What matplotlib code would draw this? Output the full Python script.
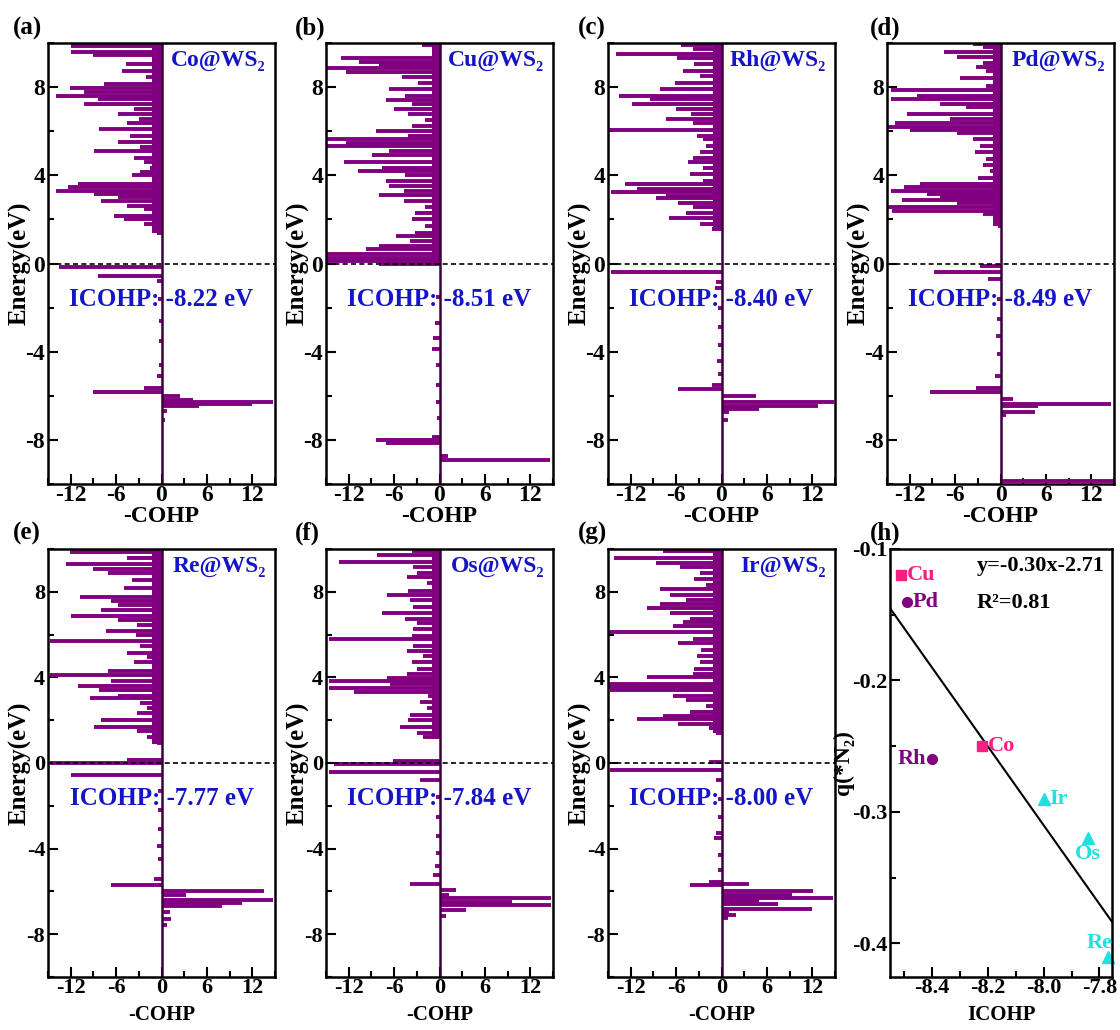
import numpy as np
import matplotlib
matplotlib.use("Agg")
import matplotlib.pyplot as plt
from matplotlib.ticker import MultipleLocator, FormatStrFormatter

plt.rcParams['font.family'] = ['Liberation Serif', 'DejaVu Serif']
plt.rcParams['font.weight'] = 'bold'
plt.rcParams['axes.unicode_minus'] = False

# -COHP spikes: energy (eV) and value
co_e = [9.85, 9.6, 9.45, 9.05, 8.75, 8.45, 8.15, 7.95, 7.77, 7.6, 7.47, 7.24, 7.0, 6.8, 6.55,
        6.35, 6.1, 5.8, 5.5, 5.27, 5.1, 4.8, 4.6, 4.35, 4.15, 4.0, 3.6, 3.45, 3.3, 3.15, 3.0,
        2.85, 2.6, 2.45, 2.15, 2.0, 1.8, 1.55, 1.4, -0.18, -0.55, -0.8, -1.6, -2.6, -3.5, -4.6,
        -5.1, -5.65, -5.85, -6.0, -6.17, -6.27, -6.39, -6.47, -6.7, -7.1]
co_v = [-12, -12, -9, -4.7, -5.2, -2.1, -7.6, -12.1, -10.2, -14, -8.4, -10.2, -3.6, -5.8, -3,
        -4.5, -8.2, -4.1, -5.8, -2.8, -8.9, -3.6, -2.3, -1.5, -2.8, -3.9, -11, -12.3, -13.9, -8.9, -5.8,
        -8.0, -4.5, -2.3, -6.3, -5.0, -2.3, -1.3, -0.6, -13.6, -8.4, -0.6, -0.4, -0.3, -0.3, -0.3,
        -0.6, -2.3, -9.1, 2.4, 4.2, 14.8, 12, 5, 0.7, 0.5]

cu_e = [9.9, 9.6, 9.3, 9.15, 9.0, 8.85, 8.7, 8.45, 8.2, 7.9, 7.6, 7.4, 7.25, 7.0, 6.8, 6.5,
        6.25, 6.0, 5.8, 5.65, 5.45, 5.35, 5.1, 4.9, 4.6, 4.35, 4.2, 4.0, 3.75, 3.5, 3.3, 3.1,
        2.85, 2.55, 2.3, 2.0, 1.7, 1.4, 1.25, 1.0, 0.8, 0.65, 0.42, 0.27, 0.12, -0.03, -1.5,
        -2.7, -3.4, -3.9, -4.6, -5.5, -6.3, -7.0, -7.87, -8.0, -8.13, -8.75, -8.9]
cu_v = [-2.3, -0.6, -13, -10.6, -8, -15, -12.3, -5, -2.8, -6.7, -4.5, -7.1, -3.6, -6, -4.1, -1.9,
        -3.6, -8.4, -4.1, -15, -12.3, -15, -6.7, -8.9, -12.6, -7.6, -10.8, -4.5, -7.1, -6.7, -4.7, -8,
        -4.7, -1.9, -3.2, -3.6, -1.9, -3.2, -5.8, -3.9, -8, -9.7, -15, -15, -15, -8, -0.5,
        -0.6, -0.9, -1.0, -0.5, -0.4, -0.4, -0.3, -1.0, -8.4, -7.1, 1.1, 14.6]

rh_e = [9.9, 9.75, 9.5, 9.3, 9.05, 8.75, 8.5, 8.2, 7.9, 7.6, 7.45, 7.25, 7.0, 6.8, 6.55, 6.35,
        6.05, 5.8, 5.65, 5.35, 5.05, 4.8, 4.6, 4.35, 4.05, 3.75, 3.6, 3.4, 3.25, 3.05, 2.95, 2.75,
        2.55, 2.3, 2.05, 1.8, 1.55, -0.38, -0.85, -1.1, -2.0, -2.9, -3.7, -4.4, -5.0, -5.5, -5.7,
        -6.0, -6.3, -6.45, -6.6, -6.75, -7.1]
rh_v = [-5.3, -3.8, -14, -5.9, -3.6, -5.1, -2.9, -6.2, -8.1, -13.6, -9.4, -11.8, -6, -4, -7.3, -3.8,
        -14.9, -3.3, -2.5, -2, -2.9, -3.8, -4.4, -2.5, -4.2, -2.5, -12.7, -11.2, -14.6, -7.3, -8.6, -5.7,
        -3.8, -4.7, -7, -2.9, -1.2, -14.6, -0.7, -0.8, -0.5, -0.5, -0.5, -0.6, -0.5, -1.2, -5.7,
        4.5, 14.9, 12.7, 4.9, 1.0, 0.8]

pd_e = [9.95, 9.8, 9.6, 9.35, 9.1, 8.9, 8.75, 8.4, 8.05, 7.85, 7.6, 7.45, 7.25, 7.1, 6.8, 6.55,
        6.35, 6.2, 6.05, 5.9, 5.65, 5.35, 5.05, 4.75, 4.45, 4.2, 3.9, 3.6, 3.45, 3.3, 3.15, 3.0,
        2.9, 2.75, 2.55, 2.4, 2.25, 1.95, 1.7, -0.1, -0.4, -0.7, -1.6, -2.5, -3.3, -4.1, -5.1,
        -5.65, -5.85, -6.15, -6.35, -6.45, -6.75, -6.85, -9.85]
pd_v = [-3.6, -2.3, -7.5, -5.8, -2.3, -3.2, -1.9, -5.3, -1.9, -14.5, -11, -14.5, -8, -4.5, -12.3, -6.7,
        -14, -15, -11.9, -5.8, -3.6, -2.7, -3.4, -1.9, -2.3, -1.4, -3, -10.6, -12.7, -14.5, -9.7, -8,
        -13, -5.8, -15, -14.3, -2.3, -1, -0.3, -2.7, -8.8, -1.6, -0.4, -0.5, -0.6, -0.5, -0.7,
        -3.2, -9.3, 1.6, 14.6, 5, 4.6, 0.7, 15]

re_e = [9.85, 9.6, 9.3, 9.05, 8.9, 8.55, 8.2, 7.75, 7.55, 7.4, 7.15, 6.85, 6.7, 6.45, 6.15, 6.0,
        5.7, 5.45, 5.15, 4.95, 4.7, 4.3, 4.1, 3.85, 3.6, 3.4, 3.15, 3.05, 2.8, 2.55, 2.35, 2.0,
        1.7, 1.5, 1.2, 0.95, 0.15, 0.0, -0.55, -1.3, -2.2, -3.1, -3.9, -4.5, -5.4, -5.7, -6.0,
        -6.15, -6.4, -6.55, -6.7, -6.95, -7.3, -7.55]
re_v = [-12.1, -4.5, -12.6, -9.1, -7.1, -3.9, -5, -10.8, -6.7, -5.8, -8, -11.9, -5.8, -3.2, -7.3, -3.4,
        -14.7, -2.8, -4.5, -1.9, -3.6, -7.1, -14.7, -6.7, -11, -8.2, -5.8, -9.5, -2.8, -1.9, -3.2, -8,
        -8.9, -3.2, -1.9, -0.6, -4.5, -14.7, -11.9, -0.4, -0.4, -0.4, -0.6, -0.5, -1.0, -6.7, 13.5,
        3.3, 14.8, 10.7, 8, 1.1, 1.3, 0.7]

os_e = [9.9, 9.7, 9.4, 9.15, 8.9, 8.7, 8.4, 8.05, 7.85, 7.6, 7.3, 7.0, 6.75, 6.55, 6.25, 5.95,
        5.8, 5.45, 5.25, 5.0, 4.7, 4.4, 4.15, 3.95, 3.85, 3.7, 3.5, 3.3, 3.15, 2.85, 2.55, 2.25,
        2.0, 1.7, 1.4, 1.2, 0.1, -0.05, -0.4, -0.8, -1.6, -2.5, -3.4, -4.2, -4.8, -5.25, -5.65,
        -5.95, -6.15, -6.3, -6.5, -6.65, -6.85, -7.15]
os_v = [-3.7, -8.3, -13.3, -3.5, -3, -4.3, -1.7, -4.1, -7, -3.9, -3.5, -7.6, -4.6, -3, -3.5, -3.7,
        -14.6, -3.5, -4.3, -2.2, -3.7, -3, -4.3, -7, -14.6, -6.5, -14.6, -11.3, -1.5, -2.6, -1.7, -3.9,
        -4.1, -5.2, -3, -2.2, -6.1, -13.9, -14.6, -2.6, -0.4, -0.4, -0.5, -0.5, -0.6, -0.9, -3.9,
        2.2, 1.3, 14.8, 9.6, 14.8, 3.5, 0.9]

ir_e = [9.9, 9.6, 9.35, 9.15, 8.9, 8.6, 8.3, 8.15, 7.85, 7.6, 7.45, 7.25, 7.0, 6.75, 6.6, 6.4,
        6.1, 5.8, 5.6, 5.3, 5.0, 4.7, 4.4, 4.15, 4.0, 3.7, 3.55, 3.4, 3.15, 2.95, 2.65, 2.4,
        2.2, 2.05, 1.8, 1.65, 1.4, 0.03, -0.35, -0.8, -1.7, -2.5, -3.25, -3.5, -4.3, -5.0, -5.55,
        -5.7, -5.65, -6.0, -6.15, -6.3, -6.45, -6.6, -6.8, -6.95, -7.1, -7.25]
ir_v = [-7.7, -14.2, -8.6, -5.5, -2.9, -3.6, -2, -8.1, -6.8, -4.7, -8.1, -9.9, -6.8, -4.2, -5.1, -6.4,
        -14.9, -3.8, -5.7, -2.7, -3.3, -2.9, -3.6, -3.8, -9.9, -14.9, -14.9, -14.7, -6.4, -4.7, -2, -4.2,
        -7.7, -11.2, -5.7, -1.6, -0.7, -1.6, -14.7, -0.7, -0.4, -0.4, -0.7, -1.0, -0.5, -0.5, -1.6,
        -4.2, 3.6, 12.1, 9.3, 14.7, 4.9, 7.5, 11.9, 1.0, 1.9, 0.8]

# dense low-amplitude band next to the axis (energy span, typical -COHP)
band_lo = [1.4, -0.05, 1.5, 1.7, 0.9, 1.1, 1.4]
band_v = [-1.3, -1.0, -1.1, -1.0, -1.2, -1.0, -1.1]

cohp_e = [co_e, cu_e, rh_e, pd_e, re_e, os_e, ir_e]
cohp_v = [co_v, cu_v, rh_v, pd_v, re_v, os_v, ir_v]
names = ['Co@WS₂', 'Cu@WS₂', 'Rh@WS₂', 'Pd@WS₂', 'Re@WS₂', 'Os@WS₂', 'Ir@WS₂']
icohp_txt = ['-8.22', '-8.51', '-8.40', '-8.49', '-7.77', '-7.84', '-8.00']
letters = ['(a)', '(b)', '(c)', '(d)', '(e)', '(f)', '(g)', '(h)']

# panel (h)
metals = ['Cu', 'Pd', 'Rh', 'Co', 'Ir', 'Os', 'Re']
icohp = [-8.51, -8.49, -8.40, -8.22, -8.00, -7.84, -7.77]
q_n2 = [-0.12, -0.14, -0.26, -0.25, -0.29, -0.32, -0.41]
fit_k, fit_b = -0.30, -2.71

purple = '#800080'
blue = '#1515c8'
pink = '#f5207f'
cyan = '#22e0e0'

W, H = 1120, 1030
fig = plt.figure(figsize=(W / 100, H / 100), dpi=100)

lefts = [48, 326, 608, 887]
tops = [43, 549]
heights = [441, 428]
letter_x = [13, 295, 578, 870]
letter_y = [28, 533]
tick_fs = [17, 16]
xlab_fs = [17, 15]
xlab_y = [-0.049, -0.065]


def make_ax(row, col, width=227):
    l = lefts[col] if col < 3 or row == 0 else 890
    ax = fig.add_axes([l / W, 1 - (tops[row] + heights[row]) / H, width / W, heights[row] / H])
    for s in ax.spines.values():
        s.set_linewidth(1.8)
    ax.tick_params(which='both', direction='in', labelsize=tick_fs[row], width=1.5,
                   top=False, right=False, pad=2)
    ax.tick_params(axis='x', pad=1)
    ax.tick_params(which='major', length=7)
    ax.tick_params(which='minor', length=4)
    fig.text(letter_x[col] / W, 1 - letter_y[row] / H, letters[row * 4 + col],
             fontsize=18, fontweight='bold', va='center')
    return ax


for i in range(7):
    row, col = divmod(i, 4)
    ax = make_ax(row, col)
    ax.fill_betweenx([band_lo[i], 10], band_v[i], 0, color=purple, lw=0)
    ax.hlines(cohp_e[i], 0, cohp_v[i], color=purple, lw=2.8)
    ax.axvline(0, color='#3a003a', lw=1.8)
    ax.axhline(0, color='black', lw=1.2, ls=(0, (3, 2)))
    ax.set_xlim(-15, 15)
    ax.set_ylim(-10, 10)
    ax.xaxis.set_major_locator(MultipleLocator(6))
    ax.xaxis.set_minor_locator(MultipleLocator(3))
    ax.yaxis.set_major_locator(MultipleLocator(4))
    ax.yaxis.set_minor_locator(MultipleLocator(2))
    ax.set_ylabel('Energy(eV)', fontsize=18, fontweight='bold')
    ax.yaxis.set_label_coords(-0.07, 0.5)
    ax.set_xlabel('-COHP', fontsize=xlab_fs[row], fontweight='bold')
    ax.xaxis.set_label_coords(0.5, xlab_y[row])
    ax.text(13.8, 9.2, names[i], color=blue, fontsize=17, fontweight='bold',
            ha='right', va='center')
    ax.text(0, -1.65, 'ICOHP: ' + icohp_txt[i] + ' eV', color=blue, fontsize=18,
            fontweight='bold', ha='center', va='center')

# (h) q(*N2) vs ICOHP
ax = make_ax(1, 3, width=222)
ax.set_xlim(-8.55, -7.755)
ax.set_ylim(-0.4255, -0.1)
xs = np.array(ax.get_xlim())
ax.plot(xs, fit_k * xs + fit_b, color='black', lw=1.5)

styles = {'Cu': ('s', pink), 'Co': ('s', pink), 'Pd': ('o', purple), 'Rh': ('o', purple),
          'Ir': ('^', cyan), 'Os': ('^', cyan), 'Re': ('^', cyan)}
offsets = {'Cu': ((4, 0), 'left'), 'Pd': ((4, 0), 'left'), 'Rh': ((-4, 0), 'right'),
           'Co': ((4, 0), 'left'), 'Ir': ((4, 0), 'left'), 'Os': ((0, -11), 'center'),
           'Re': ((-6, 10), 'center')}
for m, x, y in zip(metals, icohp, q_n2):
    mk, c = styles[m]
    ax.plot(x, y, marker=mk, color=c, ms=8 if mk == '^' else 7, ls='none', clip_on=False)
    off, ha = offsets[m]
    ax.annotate(m, (x, y), xytext=off, textcoords='offset points', ha=ha, va='center',
                color=c, fontsize=16, fontweight='bold')

ax.text(-8.24, -0.113, 'y=-0.30x-2.71', fontsize=16, fontweight='bold', va='center')
ax.text(-8.24, -0.141, 'R²=0.81', fontsize=16, fontweight='bold', va='center')
ax.xaxis.set_major_locator(MultipleLocator(0.2))
ax.xaxis.set_minor_locator(MultipleLocator(0.1))
ax.yaxis.set_major_locator(MultipleLocator(0.1))
ax.yaxis.set_minor_locator(MultipleLocator(0.05))
ax.xaxis.set_major_formatter(FormatStrFormatter('%.1f'))
ax.yaxis.set_major_formatter(FormatStrFormatter('%.1f'))
ax.set_xlabel('ICOHP', fontsize=15, fontweight='bold')
ax.xaxis.set_label_coords(0.5, -0.065)
ax.set_ylabel('q(*N₂)', fontsize=17, fontweight='bold')
ax.yaxis.set_label_coords(-0.16, 0.5)

fig.savefig('out.png', dpi=100)
